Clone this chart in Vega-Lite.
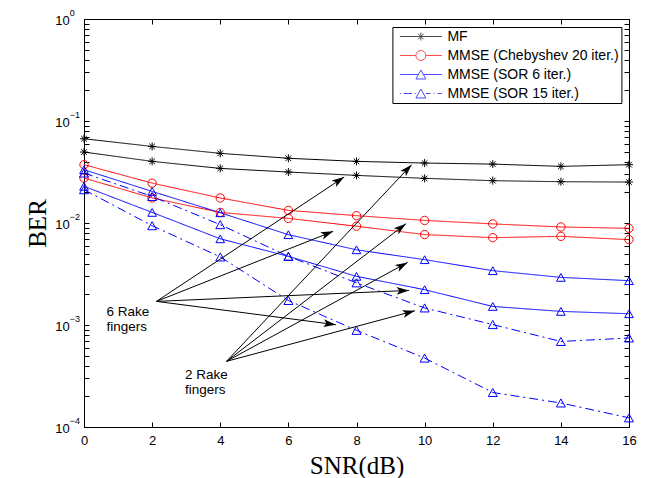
{
  "$schema": "https://vega.github.io/schema/vega-lite/v6.json",
  "width": 545,
  "height": 408,
  "autosize": {"type": "none"},
  "padding": {"left": 84, "top": 19, "right": 16, "bottom": 51},
  "background": "white",
  "config": {
    "view": {"stroke": "black", "strokeWidth": 1},
    "font": "Liberation Sans",
    "axis": {
      "grid": false,
      "labelFlush": false,
      "labelOverlap": false,
      "domainColor": "black",
      "domainWidth": 1,
      "tickColor": "black",
      "tickWidth": 1,
      "tickSize": -5,
      "labelColor": "black",
      "titleColor": "black",
      "labelFont": "Liberation Sans",
      "labelFontSize": 13,
      "titleFont": "Liberation Serif",
      "titleFontSize": 25,
      "titleFontWeight": "normal"
    }
  },
  "datasets": {
    "curves": [
      {"method": "MF", "rake": 2, "snr": 0, "ber": 0.067},
      {"method": "MF", "rake": 2, "snr": 2, "ber": 0.0563},
      {"method": "MF", "rake": 2, "snr": 4, "ber": 0.0482},
      {"method": "MF", "rake": 2, "snr": 6, "ber": 0.0431},
      {"method": "MF", "rake": 2, "snr": 8, "ber": 0.0402},
      {"method": "MF", "rake": 2, "snr": 10, "ber": 0.0387},
      {"method": "MF", "rake": 2, "snr": 12, "ber": 0.0378},
      {"method": "MF", "rake": 2, "snr": 14, "ber": 0.0359},
      {"method": "MF", "rake": 2, "snr": 16, "ber": 0.0373},
      {"method": "MF", "rake": 6, "snr": 0, "ber": 0.0496},
      {"method": "MF", "rake": 6, "snr": 2, "ber": 0.0402},
      {"method": "MF", "rake": 6, "snr": 4, "ber": 0.0343},
      {"method": "MF", "rake": 6, "snr": 6, "ber": 0.0316},
      {"method": "MF", "rake": 6, "snr": 8, "ber": 0.0293},
      {"method": "MF", "rake": 6, "snr": 10, "ber": 0.0274},
      {"method": "MF", "rake": 6, "snr": 12, "ber": 0.026},
      {"method": "MF", "rake": 6, "snr": 14, "ber": 0.0254},
      {"method": "MF", "rake": 6, "snr": 16, "ber": 0.0252},
      {"method": "MMSE (Chebyshev 20 iter.)", "rake": 2, "snr": 0, "ber": 0.0373},
      {"method": "MMSE (Chebyshev 20 iter.)", "rake": 2, "snr": 2, "ber": 0.0246},
      {"method": "MMSE (Chebyshev 20 iter.)", "rake": 2, "snr": 4, "ber": 0.0176},
      {"method": "MMSE (Chebyshev 20 iter.)", "rake": 2, "snr": 6, "ber": 0.0133},
      {"method": "MMSE (Chebyshev 20 iter.)", "rake": 2, "snr": 8, "ber": 0.0118},
      {"method": "MMSE (Chebyshev 20 iter.)", "rake": 2, "snr": 10, "ber": 0.0106},
      {"method": "MMSE (Chebyshev 20 iter.)", "rake": 2, "snr": 12, "ber": 0.0098},
      {"method": "MMSE (Chebyshev 20 iter.)", "rake": 2, "snr": 14, "ber": 0.00914},
      {"method": "MMSE (Chebyshev 20 iter.)", "rake": 2, "snr": 16, "ber": 0.00886},
      {"method": "MMSE (Chebyshev 20 iter.)", "rake": 6, "snr": 0, "ber": 0.0276},
      {"method": "MMSE (Chebyshev 20 iter.)", "rake": 6, "snr": 2, "ber": 0.0176},
      {"method": "MMSE (Chebyshev 20 iter.)", "rake": 6, "snr": 4, "ber": 0.0127},
      {"method": "MMSE (Chebyshev 20 iter.)", "rake": 6, "snr": 6, "ber": 0.0111},
      {"method": "MMSE (Chebyshev 20 iter.)", "rake": 6, "snr": 8, "ber": 0.0093},
      {"method": "MMSE (Chebyshev 20 iter.)", "rake": 6, "snr": 10, "ber": 0.0077},
      {"method": "MMSE (Chebyshev 20 iter.)", "rake": 6, "snr": 12, "ber": 0.00718},
      {"method": "MMSE (Chebyshev 20 iter.)", "rake": 6, "snr": 14, "ber": 0.0074},
      {"method": "MMSE (Chebyshev 20 iter.)", "rake": 6, "snr": 16, "ber": 0.00687},
      {"method": "MMSE (SOR 6 iter.)", "rake": 2, "snr": 0, "ber": 0.0333},
      {"method": "MMSE (SOR 6 iter.)", "rake": 2, "snr": 2, "ber": 0.0204},
      {"method": "MMSE (SOR 6 iter.)", "rake": 2, "snr": 4, "ber": 0.0126},
      {"method": "MMSE (SOR 6 iter.)", "rake": 2, "snr": 6, "ber": 0.00768},
      {"method": "MMSE (SOR 6 iter.)", "rake": 2, "snr": 8, "ber": 0.00546},
      {"method": "MMSE (SOR 6 iter.)", "rake": 2, "snr": 10, "ber": 0.00437},
      {"method": "MMSE (SOR 6 iter.)", "rake": 2, "snr": 12, "ber": 0.00341},
      {"method": "MMSE (SOR 6 iter.)", "rake": 2, "snr": 14, "ber": 0.00293},
      {"method": "MMSE (SOR 6 iter.)", "rake": 2, "snr": 16, "ber": 0.00272},
      {"method": "MMSE (SOR 6 iter.)", "rake": 6, "snr": 0, "ber": 0.0229},
      {"method": "MMSE (SOR 6 iter.)", "rake": 6, "snr": 2, "ber": 0.0127},
      {"method": "MMSE (SOR 6 iter.)", "rake": 6, "snr": 4, "ber": 0.007},
      {"method": "MMSE (SOR 6 iter.)", "rake": 6, "snr": 6, "ber": 0.00471},
      {"method": "MMSE (SOR 6 iter.)", "rake": 6, "snr": 8, "ber": 0.003},
      {"method": "MMSE (SOR 6 iter.)", "rake": 6, "snr": 10, "ber": 0.00222},
      {"method": "MMSE (SOR 6 iter.)", "rake": 6, "snr": 12, "ber": 0.00152},
      {"method": "MMSE (SOR 6 iter.)", "rake": 6, "snr": 14, "ber": 0.00136},
      {"method": "MMSE (SOR 6 iter.)", "rake": 6, "snr": 16, "ber": 0.00129},
      {"method": "MMSE (SOR 15 iter.)", "rake": 2, "snr": 0, "ber": 0.0309},
      {"method": "MMSE (SOR 15 iter.)", "rake": 2, "snr": 2, "ber": 0.0182},
      {"method": "MMSE (SOR 15 iter.)", "rake": 2, "snr": 4, "ber": 0.00963},
      {"method": "MMSE (SOR 15 iter.)", "rake": 2, "snr": 6, "ber": 0.00471},
      {"method": "MMSE (SOR 15 iter.)", "rake": 2, "snr": 8, "ber": 0.00259},
      {"method": "MMSE (SOR 15 iter.)", "rake": 2, "snr": 10, "ber": 0.00147},
      {"method": "MMSE (SOR 15 iter.)", "rake": 2, "snr": 12, "ber": 0.00101},
      {"method": "MMSE (SOR 15 iter.)", "rake": 2, "snr": 14, "ber": 0.00069},
      {"method": "MMSE (SOR 15 iter.)", "rake": 2, "snr": 16, "ber": 0.000746},
      {"method": "MMSE (SOR 15 iter.)", "rake": 6, "snr": 0, "ber": 0.0212},
      {"method": "MMSE (SOR 15 iter.)", "rake": 6, "snr": 2, "ber": 0.00941},
      {"method": "MMSE (SOR 15 iter.)", "rake": 6, "snr": 4, "ber": 0.00465},
      {"method": "MMSE (SOR 15 iter.)", "rake": 6, "snr": 6, "ber": 0.00174},
      {"method": "MMSE (SOR 15 iter.)", "rake": 6, "snr": 8, "ber": 0.000887},
      {"method": "MMSE (SOR 15 iter.)", "rake": 6, "snr": 10, "ber": 0.000474},
      {"method": "MMSE (SOR 15 iter.)", "rake": 6, "snr": 12, "ber": 0.000218},
      {"method": "MMSE (SOR 15 iter.)", "rake": 6, "snr": 14, "ber": 0.000172},
      {"method": "MMSE (SOR 15 iter.)", "rake": 6, "snr": 16, "ber": 0.000123}
    ],
    "arrows": [
      {"group": "6 Rake", "snr": 2.127, "ber": 0.001704, "snr2": 7.638, "ber2": 0.02825, "angle": 56.4},
      {"group": "6 Rake", "snr": 2.127, "ber": 0.001704, "snr2": 7.315, "ber2": 0.00828, "angle": 68.4},
      {"group": "6 Rake", "snr": 2.127, "ber": 0.001704, "snr2": 9.539, "ber2": 0.002183, "angle": 87.5},
      {"group": "6 Rake", "snr": 2.127, "ber": 0.001704, "snr2": 7.394, "ber2": 0.001007, "angle": 97.4},
      {"group": "2 Rake", "snr": 4.183, "ber": 0.00044, "snr2": 9.618, "ber2": 0.0373, "angle": 43.2},
      {"group": "2 Rake", "snr": 4.183, "ber": 0.00044, "snr2": 9.451, "ber2": 0.00984, "angle": 52.5},
      {"group": "2 Rake", "snr": 4.183, "ber": 0.00044, "snr2": 9.501, "ber2": 0.00411, "angle": 61.3},
      {"group": "2 Rake", "snr": 4.183, "ber": 0.00044, "snr2": 9.715, "ber2": 0.00138, "angle": 74.9}
    ],
    "notes": [
      {"snr": 0.658, "ber": 0.00133, "text": ["6 Rake", "fingers"]},
      {"snr": 2.964, "ber": 0.000321, "text": ["2 Rake", "fingers"]}
    ]
  },
  "resolve": {
    "scale": {"color": "independent", "shape": "independent", "size": "independent", "strokeDash": "independent"},
    "axis": {"x": "independent", "y": "independent"}
  },
  "layer": [
    {
      "data": {"name": "curves"},
      "mark": {"type": "line", "strokeWidth": 1},
      "encoding": {
        "x": {
          "field": "snr", "type": "quantitative",
          "scale": {"domain": [0, 16], "nice": false, "zero": false},
          "axis": {"title": "SNR(dB)", "values": [0, 2, 4, 6, 8, 10, 12, 14, 16], "labelPadding": 12, "titleX": 272.5, "titleY": 38, "titleBaseline": "middle"}
        },
        "y": {
          "field": "ber", "type": "quantitative",
          "scale": {"type": "log", "domain": [0.0001, 1], "nice": false},
          "axis": {
            "title": "BER",
            "values": [0.0001, 0.0002, 0.0003, 0.0004, 0.0005, 0.0006, 0.0007, 0.0008, 0.0009, 0.001, 0.002, 0.003, 0.004, 0.005, 0.006, 0.007, 0.008, 0.009, 0.01, 0.02, 0.03, 0.04, 0.05, 0.06, 0.07, 0.08, 0.09, 0.1, 0.2, 0.3, 0.4, 0.5, 0.6, 0.7, 0.8, 0.9, 1],
            "labelExpr": "abs(log(datum.value) / LN10 - round(log(datum.value) / LN10)) < 0.000001 ? '10' : ''",
            "labelPadding": 19.8,
            "labelOffset": 1,
            "titleX": -47, "titleY": 204, "titleBaseline": "middle"
          }
        },
        "color": {
          "field": "method", "type": "nominal", "legend": null,
          "scale": {"domain": ["MF", "MMSE (Chebyshev 20 iter.)", "MMSE (SOR 6 iter.)", "MMSE (SOR 15 iter.)"], "range": ["#000000", "#ff0000", "#0000ff", "#0000ff"]}
        },
        "strokeDash": {
          "field": "method", "type": "nominal", "legend": null,
          "scale": {"domain": ["MF", "MMSE (Chebyshev 20 iter.)", "MMSE (SOR 6 iter.)", "MMSE (SOR 15 iter.)"], "range": [[1, 0], [1, 0], [1, 0], [9, 4, 2, 4]]}
        },
        "detail": {"field": "rake", "type": "nominal"}
      }
    },
    {
      "data": {"name": "curves"},
      "mark": {"type": "point", "filled": false, "strokeWidth": 1, "opacity": 1},
      "encoding": {
        "x": {"field": "snr", "type": "quantitative", "axis": null},
        "y": {"field": "ber", "type": "quantitative", "axis": null},
        "color": {
          "field": "method", "type": "nominal", "legend": null,
          "scale": {"domain": ["MF", "MMSE (Chebyshev 20 iter.)", "MMSE (SOR 6 iter.)", "MMSE (SOR 15 iter.)"], "range": ["#000000", "#ff0000", "#0000ff", "#0000ff"]}
        },
        "shape": {
          "field": "method", "type": "nominal", "legend": null,
          "scale": {"domain": ["MF", "MMSE (Chebyshev 20 iter.)", "MMSE (SOR 6 iter.)", "MMSE (SOR 15 iter.)"], "range": ["M0,-1L0,1M-1,0L1,0M-0.7,-0.7L0.7,0.7M-0.7,0.7L0.7,-0.7", "circle", "M0,-0.9L1,0.9L-1,0.9Z", "M0,-0.9L1,0.9L-1,0.9Z"]}
        },
        "size": {
          "field": "method", "type": "nominal", "legend": null,
          "scale": {"domain": ["MF", "MMSE (Chebyshev 20 iter.)", "MMSE (SOR 6 iter.)", "MMSE (SOR 15 iter.)"], "range": [64, 80, 88, 88]}
        }
      }
    },
    {
      "data": {"name": "arrows"},
      "mark": {"type": "rule", "color": "black", "strokeWidth": 1},
      "encoding": {
        "x": {"field": "snr", "type": "quantitative", "axis": {"orient": "top", "values": [0, 2, 4, 6, 8, 10, 12, 14, 16], "labels": false, "title": null}},
        "y": {"field": "ber", "type": "quantitative", "axis": {"orient": "right", "values": [0.0001, 0.0002, 0.0003, 0.0004, 0.0005, 0.0006, 0.0007, 0.0008, 0.0009, 0.001, 0.002, 0.003, 0.004, 0.005, 0.006, 0.007, 0.008, 0.009, 0.01, 0.02, 0.03, 0.04, 0.05, 0.06, 0.07, 0.08, 0.09, 0.1, 0.2, 0.3, 0.4, 0.5, 0.6, 0.7, 0.8, 0.9, 1], "labels": false, "title": null}},
        "x2": {"field": "snr2"},
        "y2": {"field": "ber2"}
      }
    },
    {
      "data": {"name": "arrows"},
      "mark": {"type": "point", "filled": true, "color": "black", "opacity": 1, "shape": "M0,0L0.6,1.9L0,1.45L-0.6,1.9Z", "size": 169, "strokeWidth": 0},
      "encoding": {
        "x": {"field": "snr2", "type": "quantitative", "axis": null},
        "y": {"field": "ber2", "type": "quantitative", "axis": null},
        "angle": {"field": "angle", "type": "quantitative", "scale": null}
      }
    },
    {
      "data": {"name": "notes"},
      "mark": {"type": "text", "align": "left", "baseline": "middle", "font": "Liberation Sans", "fontSize": 13.5, "lineHeight": 15, "color": "black"},
      "encoding": {
        "x": {"field": "snr", "type": "quantitative", "axis": null},
        "y": {
          "field": "ber", "type": "quantitative",
          "axis": {
            "orient": "left", "title": null, "domain": false, "ticks": false, "tickSize": 0,
            "values": [0.0001, 0.001, 0.01, 0.1, 1],
            "labelExpr": "round(log(datum.value) / LN10) == 0 ? '0' : '−' + abs(round(log(datum.value) / LN10))",
            "labelAlign": "left", "labelPadding": 14.8, "labelOffset": -7, "labelFontSize": 9
          }
        },
        "text": {"field": "text"}
      }
    },
    {
      "data": {"name": "curves"},
      "transform": [{"filter": "datum.snr < 0"}],
      "mark": {"type": "point", "filled": false, "strokeWidth": 1, "size": 196},
      "encoding": {
        "x": {"field": "snr", "type": "quantitative", "axis": null},
        "y": {"field": "ber", "type": "quantitative", "axis": null},
        "color": {
          "field": "method", "type": "nominal",
          "scale": {"domain": ["MF", "MMSE (Chebyshev 20 iter.)", "MMSE (SOR 6 iter.)", "MMSE (SOR 15 iter.)"], "range": ["#000000", "#ff0000", "#0000ff", "#0000ff"]},
          "legend": {"title": null, "orient": "none", "legendX": 308.4, "legendY": 8, "padding": 2, "symbolSize": 196, "symbolStrokeWidth": 1, "labelFont": "Liberation Sans", "labelFontSize": 14, "labelColor": "black", "labelOffset": 38, "labelLimit": 400, "rowPadding": 4, "strokeColor": "black", "fillColor": "white"}
        },
        "shape": {
          "field": "method", "type": "nominal",
          "scale": {"domain": ["MF", "MMSE (Chebyshev 20 iter.)", "MMSE (SOR 6 iter.)", "MMSE (SOR 15 iter.)"], "range": [
            "M-0.29,0L5.71,0M2.71,-0.57L2.71,0.57M2.14,0L3.28,0M2.31,-0.4L3.11,0.4M2.31,0.4L3.11,-0.4",
            "M-0.29,0L2,0M3.42,0L5.71,0M2,0A0.71,0.71 0 1,1 3.42,0A0.71,0.71 0 1,1 2,0",
            "M-0.29,0L2.32,0M3.1,0L5.71,0M2.71,-0.64L3.42,0.64L2,0.64Z",
            "M-0.29,0L-0.15,0M0.28,0L1.42,0M1.85,0L1.99,0M2.71,-0.64L3.42,0.64L2,0.64ZM3.42,0L4.1,0M4.53,0L4.67,0M5.1,0L5.71,0"
          ]},
          "legend": {"title": null, "orient": "none", "legendX": 308.4, "legendY": 8, "padding": 2, "symbolSize": 196, "symbolStrokeWidth": 1, "labelFont": "Liberation Sans", "labelFontSize": 14, "labelColor": "black", "labelOffset": 38, "labelLimit": 400, "rowPadding": 4, "strokeColor": "black", "fillColor": "white"}
        }
      }
    }
  ]
}
